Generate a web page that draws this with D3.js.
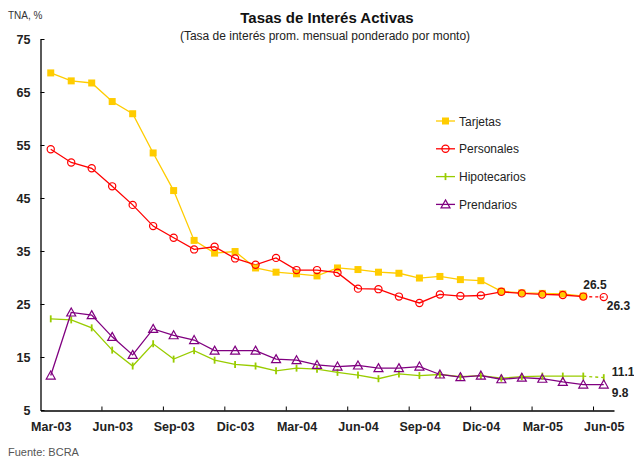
<!DOCTYPE html>
<html>
<head>
<meta charset="utf-8">
<script src="https://cdn.jsdelivr.net/npm/d3@7"></script>
<style>
  body { margin: 0; background: #fff; }
  svg { font-family: "Liberation Sans", Arial, sans-serif; }
</style>
</head>
<body>
<svg width="634" height="458"></svg>
<script>
// meses (categorias del eje x)
var months = ["Mar-03","Abr-03","May-03","Jun-03","Jul-03","Ago-03","Sep-03","Oct-03","Nov-03","Dic-03",
              "Ene-04","Feb-04","Mar-04","Abr-04","May-04","Jun-04","Jul-04","Ago-04","Sep-04","Oct-04",
              "Nov-04","Dic-04","Ene-05","Feb-05","Mar-05","Abr-05","May-05","Jun-05"];
var tickMonths = ["Mar-03","Jun-03","Sep-03","Dic-03","Mar-04","Jun-04","Sep-04","Dic-04","Mar-05","Jun-05"];
var yTicks = [5, 15, 25, 35, 45, 55, 65, 75];

var tarjetas = [68.6,67.1,66.7,63.2,60.9,53.5,46.4,37.0,34.6,34.9,31.8,31.0,30.7,30.3,31.8,31.5,31.0,30.8,
                29.9,30.2,29.6,29.4,27.4,27.1,27.0,26.9,26.5,null];
var personales = [54.2,51.7,50.6,47.2,43.7,39.7,37.5,35.3,35.8,33.6,32.4,33.7,31.4,31.4,30.9,27.9,27.8,26.4,
                  25.2,26.8,26.5,26.6,27.3,27.0,26.8,26.7,26.4,26.3];
var hipotecarios = [22.2,22.0,20.5,16.3,13.3,17.5,14.6,16.2,14.4,13.6,13.3,12.4,12.9,12.7,12.1,11.6,10.9,11.8,
                    11.5,11.7,11.3,11.5,11.0,11.3,11.4,11.4,11.4,11.1];
var prendarios = [11.5,23.4,22.9,18.8,15.4,20.3,19.1,18.2,16.2,16.2,16.2,14.6,14.4,13.5,13.2,13.4,12.9,12.9,
                  13.2,11.7,11.2,11.5,10.8,11.1,10.9,10.3,9.8,9.8];

// etiquetas de ultimo dato
var endLabels = [
  {name: "Tarjetas", idx: 26, text: "26.5"},
  {name: "Personales", idx: 27, text: "26.3"},
  {name: "Hipotecarios", idx: 27, text: "11.1"},
  {name: "Prendarios", idx: 27, text: "9.8"}
];

var series = [
  {name: "Tarjetas", values: tarjetas, color: "#ffcc00", marker: "square", dashedLast: false},
  {name: "Personales", values: personales, color: "#ff0000", marker: "circle", dashedLast: true},
  {name: "Hipotecarios", values: hipotecarios, color: "#99cc00", marker: "bar", dashedLast: true},
  {name: "Prendarios", values: prendarios, color: "#800080", marker: "triangle", dashedLast: false}
];

var svg = d3.select("svg");

var x = d3.scalePoint()
    .domain(months)
    .range([40.5, 614])
    .padding(0.5);
var step = x.step();

var y = d3.scaleLinear()
    .domain([5, 75])
    .range([410, 39]);

// titulos
svg.append("text")
    .attr("x", 327).attr("y", 23)
    .attr("text-anchor", "middle")
    .attr("font-weight", "bold")
    .attr("font-size", 15)
    .attr("fill", "#111")
    .text("Tasas de Interés Activas");
svg.append("text")
    .attr("x", 325).attr("y", 40)
    .attr("text-anchor", "middle")
    .attr("font-size", 12)
    .attr("fill", "#222")
    .text("(Tasa de interés prom. mensual ponderado por monto)");
svg.append("text")
    .attr("x", 8).attr("y", 19)
    .attr("font-size", 10)
    .attr("fill", "#333")
    .text("TNA, %");
svg.append("text")
    .attr("x", 8).attr("y", 456)
    .attr("font-size", 11)
    .attr("fill", "#555")
    .text("Fuente: BCRA");

// eje y
var yAxis = svg.append("g")
    .attr("transform", "translate(40.5,0)")
    .call(d3.axisLeft(y).tickValues(yTicks).tickSizeInner(-4).tickSizeOuter(0).tickPadding(10));
yAxis.select(".domain").attr("stroke", "#000").attr("stroke-width", 1.3);
yAxis.selectAll("text").attr("font-size", 12.5).attr("font-weight", "bold")
    .attr("fill", "#222").attr("font-family", "Liberation Sans, Arial, sans-serif");

// eje x
var xAxis = svg.append("g")
    .attr("transform", "translate(0,410.5)")
    .call(d3.axisBottom(x).tickValues(tickMonths).tickSize(0).tickPadding(12));
xAxis.select(".domain").attr("stroke", "#000").attr("stroke-width", 1.3);
xAxis.selectAll("text").attr("font-size", 12.5).attr("font-weight", "bold")
    .attr("fill", "#222").attr("font-family", "Liberation Sans, Arial, sans-serif");
xAxis.selectAll(".xtick")
    .data(tickMonths.slice(1))
    .enter()
    .append("line")
        .attr("x1", d => x(d) - step / 2)
        .attr("x2", d => x(d) - step / 2)
        .attr("y1", 0)
        .attr("y2", -4)
        .attr("stroke", "#000");

// lineas
var line = d3.line()
    .defined(d => d.v != null)
    .x(d => x(d.m))
    .y(d => y(d.v));

series.forEach(function(s) {
  var pts = s.values.map((v, i) => ({m: months[i], v: v}));
  var solid = s.dashedLast ? pts.slice(0, pts.length - 1) : pts;
  svg.append("path")
      .datum(solid)
      .attr("fill", "none")
      .attr("stroke", s.color)
      .attr("stroke-width", 1.3)
      .attr("d", line);
  if (s.dashedLast) {
    svg.append("path")
        .datum(pts.slice(pts.length - 2))
        .attr("fill", "none")
        .attr("stroke", s.color)
        .attr("stroke-width", 1.3)
        .attr("stroke-dasharray", "3,3")
        .attr("d", line);
  }
});

function drawMarker(g, s, cx, cy) {
  if (s.marker === "square") {
    g.append("rect").attr("x", cx - 3.5).attr("y", cy - 3.5)
        .attr("width", 7).attr("height", 7).attr("fill", s.color);
  } else if (s.marker === "circle") {
    g.append("circle").attr("cx", cx).attr("cy", cy).attr("r", 3.6)
        .attr("fill", "none").attr("stroke", s.color).attr("stroke-width", 1.2);
  } else if (s.marker === "bar") {
    g.append("line").attr("x1", cx).attr("x2", cx).attr("y1", cy - 3.5).attr("y2", cy + 3.5)
        .attr("stroke", s.color).attr("stroke-width", 1.8);
  } else {
    g.append("path")
        .attr("d", "M" + cx + "," + (cy - 4.5) + "L" + (cx + 4.5) + "," + (cy + 3.5) + "L" + (cx - 4.5) + "," + (cy + 3.5) + "Z")
        .attr("fill", "none").attr("stroke", s.color).attr("stroke-width", 1.2);
  }
}

series.forEach(function(s) {
  var g = svg.append("g");
  s.values.forEach(function(v, i) {
    if (v == null) return;
    drawMarker(g, s, x(months[i]), y(v));
  });
});

// etiquetas finales
var labelOffsets = {
  "Tarjetas": [0, -7, "start"],
  "Personales": [3, 13, "start"],
  "Hipotecarios": [8, -2, "start"],
  "Prendarios": [8, 12, "start"]
};
endLabels.forEach(function(l) {
  var s = series.find(d => d.name === l.name);
  var o = labelOffsets[l.name];
  svg.append("text")
      .attr("x", x(months[l.idx]) + o[0])
      .attr("y", y(s.values[l.idx]) + o[1])
      .attr("text-anchor", o[2])
      .attr("font-size", 12)
      .attr("font-weight", "bold")
      .attr("fill", "#222")
      .text(l.text);
});

// leyenda
var legend = svg.append("g")
    .attr("transform", "translate(436,121)")
  .selectAll(".leg")
  .data(series)
  .enter()
  .append("g")
    .attr("transform", (d, i) => "translate(0," + i * 27.8 + ")");
legend.append("line")
    .attr("x1", 0).attr("x2", 19)
    .attr("stroke", d => d.color).attr("stroke-width", 1.3);
legend.each(function(d) { drawMarker(d3.select(this), d, 9.5, 0); });
legend.append("text")
    .attr("x", 23).attr("y", 4.5)
    .attr("font-size", 12)
    .attr("fill", "#222")
    .text(d => d.name);
</script>
</body>
</html>
